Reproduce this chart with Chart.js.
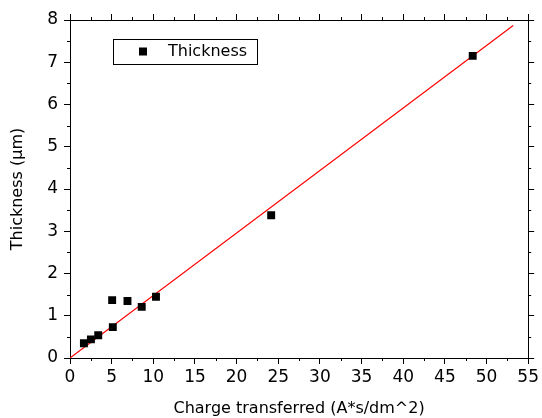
<!DOCTYPE html>
<html>
<head>
<meta charset="utf-8">
<script src="https://cdn.jsdelivr.net/npm/chart.js@4/dist/chart.umd.min.js"></script>
<style>
html,body{margin:0;padding:0;background:#fff;}
#wrap{width:542px;height:418px;}
</style>
</head>
<body>
<div id="wrap"><canvas id="c" width="542" height="418"></canvas></div>
<script>
// Data
const chargeX = [1.67, 2.51, 3.39, 5.06, 5.14, 6.9, 8.61, 10.32, 24.15, 48.34];
const thicknessY = [0.35, 0.44, 0.54, 1.37, 0.73, 1.35, 1.21, 1.45, 3.38, 7.15];
const fitX = [0, 53.2];
const fitY = [0, 7.87];
const xTicks = [0, 5, 10, 15, 20, 25, 30, 35, 40, 45, 50, 55];
const yTicks = [0, 1, 2, 3, 4, 5, 6, 7, 8];
const seriesLabel = 'Thickness';
const xTitle = 'Charge transferred (A*s/dm^2)';
const yTitle = 'Thickness (µm)';

const FONT = 'DejaVu Sans';

const minorTicks = {
  id: 'minorTicks',
  afterDraw(chart) {
    const ctx = chart.ctx;
    const s = chart.scales;
    ctx.save();
    ctx.strokeStyle = '#000';
    ctx.lineWidth = 1;
    const L = 3;
    ctx.beginPath();
    for (let i = 0; i < xTicks.length - 1; i++) {
      const v = (xTicks[i] + xTicks[i + 1]) / 2;
      const px = Math.round(s.x.getPixelForValue(v)) + 0.5;
      ctx.moveTo(px, s.x.top); ctx.lineTo(px, s.x.top + L);
      ctx.moveTo(px, s.x2.bottom); ctx.lineTo(px, s.x2.bottom - L);
    }
    for (let i = 0; i < yTicks.length - 1; i++) {
      const v = (yTicks[i] + yTicks[i + 1]) / 2;
      const py = Math.round(s.y.getPixelForValue(v)) + 0.5;
      ctx.moveTo(s.y.right, py); ctx.lineTo(s.y.right - L, py);
      ctx.moveTo(s.y2.left, py); ctx.lineTo(s.y2.left + L, py);
    }
    ctx.stroke();

    // legend box
    const ca = chart.chartArea;
    const bx = ca.left + 43.5, by = ca.top + 19.5, bw = 144, bh = 25;
    ctx.fillStyle = '#fff';
    ctx.fillRect(bx, by, bw, bh);
    ctx.strokeRect(bx, by, bw, bh);
    ctx.fillStyle = '#000';
    ctx.fillRect(bx + 25.5, by + 8, 8, 8);
    ctx.font = '16px "' + FONT + '"';
    ctx.textBaseline = 'middle';
    ctx.textAlign = 'left';
    ctx.fillText(chart.data.datasets[0].label, bx + 54.5, by + 12.5);
    ctx.restore();
  }
};

const pts = chargeX.map((x, i) => ({x: x, y: thicknessY[i]}));
const fitPts = fitX.map((x, i) => ({x: x, y: fitY[i]}));

const gridOpts = {display: true, drawOnChartArea: false, drawTicks: true, tickLength: 6, color: '#000', lineWidth: 1};
const borderOpts = {display: true, color: '#000', width: 1};

new Chart(document.getElementById('c'), {
  type: 'scatter',
  data: {
    datasets: [
      {
        label: seriesLabel,
        data: pts,
        pointStyle: 'rect',
        pointRadius: 5.6,
        pointHoverRadius: 5.6,
        backgroundColor: '#000',
        borderWidth: 0,
        order: 1
      },
      {
        label: 'fit',
        type: 'line',
        data: fitPts,
        borderColor: '#ff0000',
        borderWidth: 1.2,
        pointRadius: 0,
        fill: false,
        order: 2
      }
    ]
  },
  options: {
    responsive: false,
    animation: false,
    events: [],
    layout: {padding: 0},
    plugins: {legend: {display: false}, tooltip: {enabled: false}},
    scales: {
      x: {
        type: 'linear', position: 'bottom', min: 0, max: 55,
        afterBuildTicks: (sc) => { sc.ticks = xTicks.map(v => ({value: v})); },
        afterFit: (sc) => { sc.height = 60; },
        ticks: {color: '#000', font: {family: FONT, size: 17}, padding: 3, maxRotation: 0, autoSkip: false},
        grid: gridOpts, border: borderOpts,
        title: {display: true, text: xTitle, color: '#000', font: {family: FONT, size: 16}, padding: {top: 4, bottom: 0}}
      },
      x2: {
        type: 'linear', position: 'top', min: 0, max: 55,
        afterBuildTicks: (sc) => { sc.ticks = xTicks.map(v => ({value: v})); },
        afterFit: (sc) => { sc.height = 20; },
        ticks: {display: false},
        grid: gridOpts, border: borderOpts
      },
      y: {
        type: 'linear', position: 'left', min: 0, max: 8,
        afterBuildTicks: (sc) => { sc.ticks = yTicks.map(v => ({value: v})); },
        afterFit: (sc) => { sc.width = 70; },
        ticks: {color: '#000', font: {family: FONT, size: 17}, padding: 6, autoSkip: false},
        grid: gridOpts, border: borderOpts,
        title: {display: true, text: yTitle, color: '#000', font: {family: FONT, size: 16}, padding: {top: 8, bottom: 0}}
      },
      y2: {
        type: 'linear', position: 'right', min: 0, max: 8,
        afterBuildTicks: (sc) => { sc.ticks = yTicks.map(v => ({value: v})); },
        afterFit: (sc) => { sc.width = 11; },
        ticks: {display: false},
        grid: gridOpts, border: borderOpts
      }
    }
  },
  plugins: [minorTicks]
});
</script>
</body>
</html>
